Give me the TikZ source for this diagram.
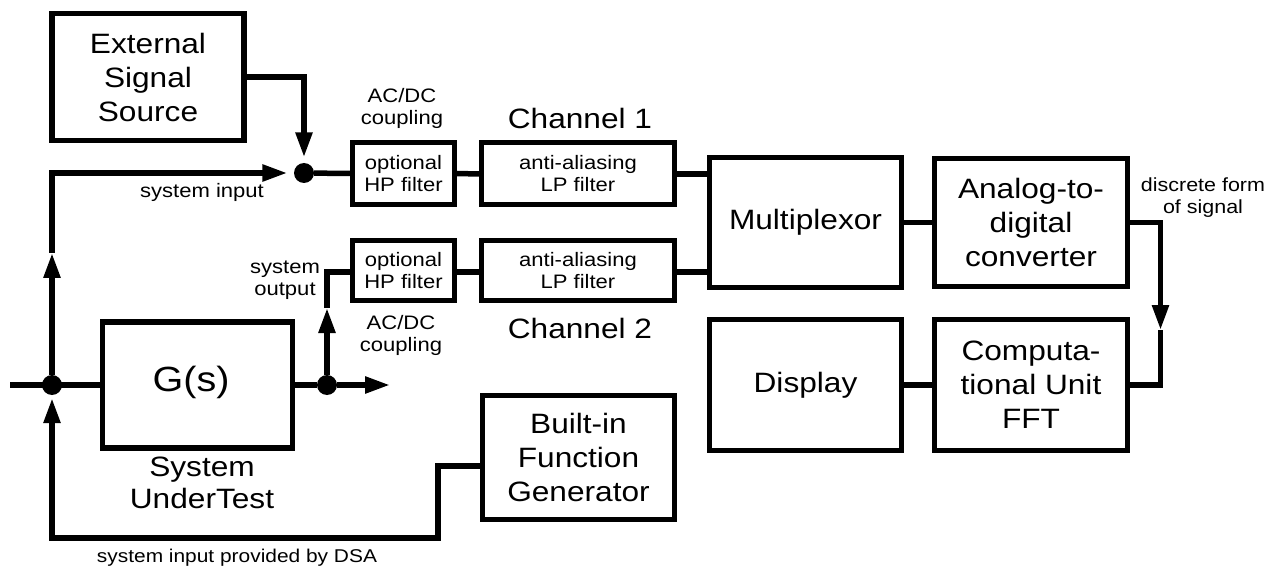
\documentclass[tikz,border=0pt]{standalone}
\usepackage{fontspec}
\setmainfont[FakeStretch=1.13]{Liberation Sans}
\usetikzlibrary{arrows.meta,calc}
\newcommand\fbig{\fontsize{28}{34}\selectfont}
\newcommand\fsmall{\fontsize{19.5}{22}\selectfont}
\newcommand\fhuge{\fontsize{35}{40}\selectfont}
\tikzset{
  x=1pt, y=-1pt,
  wire/.style={line width=5.5pt, line join=miter},
  arr/.style={wire, -{Triangle[length=25pt,width=16pt]}},
  block/.style={draw, line width=5.5pt, inner sep=0pt, align=center, font=\fbig},
  fblock/.style={draw, line width=5pt, inner sep=0pt, align=center, font=\fsmall},
  junction/.style={circle, fill, minimum size=20pt, inner sep=0pt},
  lbl/.style={inner sep=0pt, align=center, font=\fsmall},
}
\begin{document}
\begin{tikzpicture}
\useasboundingbox (0,0) rectangle (1267,572);

% blocks
\node[block, minimum width=192pt, minimum height=127pt] (ess) at (148,77) {External\\Signal\\Source};
\node[fblock, minimum width=102pt, minimum height=62pt] (hp1) at (403.5,173.5) {optional\\HP filter};
\node[fblock, minimum width=193pt, minimum height=62pt] (lp1) at (578,174) {anti-aliasing\\LP filter};
\node[fblock, minimum width=102pt, minimum height=60pt] (hp2) at (403.5,270.5) {optional\\HP filter};
\node[fblock, minimum width=193pt, minimum height=60pt] (lp2) at (578,270.5) {anti-aliasing\\LP filter};
\node[block, minimum width=192pt, minimum height=130pt] (mux) at (805.5,222.5) {Multiplexor};
\node[block, minimum width=193pt, minimum height=128pt] (adc) at (1031,222.5) {Analog-to-\\digital\\converter};
\node[block, minimum width=192pt, minimum height=131pt] (disp) at (805.5,385) {Display};
\node[block, minimum width=193pt, minimum height=131pt] (cu) at (1031,385) {Computa-\\tional Unit\\FFT};
\node[block, minimum width=190pt, minimum height=126pt] (g) at (197.5,385) {};
\node[inner sep=0pt, font=\fhuge] (gs) at (191,382) {G(s)};
\node[block, minimum width=192pt, minimum height=124pt] (big) at (578.5,457.5) {Built-in\\Function\\Generator};

% junctions and free ends
\node[junction] (d0) at (52,385) {};
\node[junction] (d1) at (304,173) {};
\node[junction] (d2) at (327,385) {};
\coordinate (in) at (10,385);
\coordinate (out) at (390,385);
\coordinate (a1) at (52,253);
\coordinate (a2) at (327,308);
\coordinate (a3) at (1160.5,330);

% labels
\node[lbl] (acdc1) at (402,108) {AC/DC\\coupling};
\node[inner sep=0pt, font=\fbig] (ch1) at (580,118) {Channel 1};
\node[lbl] (sysin) at (202,192) {system input};
\node[lbl] (sysout) at (285,280) {system\\output};
\node[lbl] (acdc2) at (401,335) {AC/DC\\coupling};
\node[inner sep=0pt, font=\fbig] (ch2) at (580,328) {Channel 2};
\node[inner sep=0pt, align=center, font=\fontsize{28}{32}\selectfont] (sut) at (202,483) {System\\UnderTest};
\node[lbl, font=\fontsize{18.5}{22}\selectfont] (dsa) at (237,558) {system input provided by DSA};
\node[lbl, font=\fontsize{19}{22}\selectfont] (disc) at (1203,198) {discrete form\\of signal};

% external source into channel 1
\draw[arr, shorten >=5.5pt] (ess.east) -| (d1.north);
\draw[wire] (d1) -- (hp1.west);
\draw[wire] (hp1.east) -- (lp1.west);
\draw[wire] (lp1.east) -- (lp1.east -| mux.west);

% system input branch
\draw[wire] (in) -- (g.west);
\draw[arr] (d0) -- (a1);
\draw[arr, shorten >=6.5pt] (a1) |- (d1.west);

% system output into channel 2
\draw[wire] (g.east) -- (d2);
\draw[arr] (d2) -- (out);
\draw[arr] (d2) -- (a2);
\draw[wire] (a2) |- ([yshift=-1.5pt]hp2.west);
\draw[wire] ([yshift=-1.5pt]hp2.east) -- ([yshift=-1.5pt]lp2.west);
\draw[wire] ([yshift=-1.5pt]lp2.east) -- ([yshift=-1.5pt]lp2.east -| mux.west);

% function generator feedback
\draw[arr, shorten >=3pt] ([yshift=-8.5pt]big.west) -- ++(-42,0) -- ++(0,72) -| (d0.south);

% digital chain
\draw[wire] (mux.east) -- (adc.west);
\draw[arr] (adc.east) -| (a3);
\draw[wire] (a3) |- (cu.east);
\draw[wire] (disp.east) -- (cu.west);
\end{tikzpicture}
\end{document}
